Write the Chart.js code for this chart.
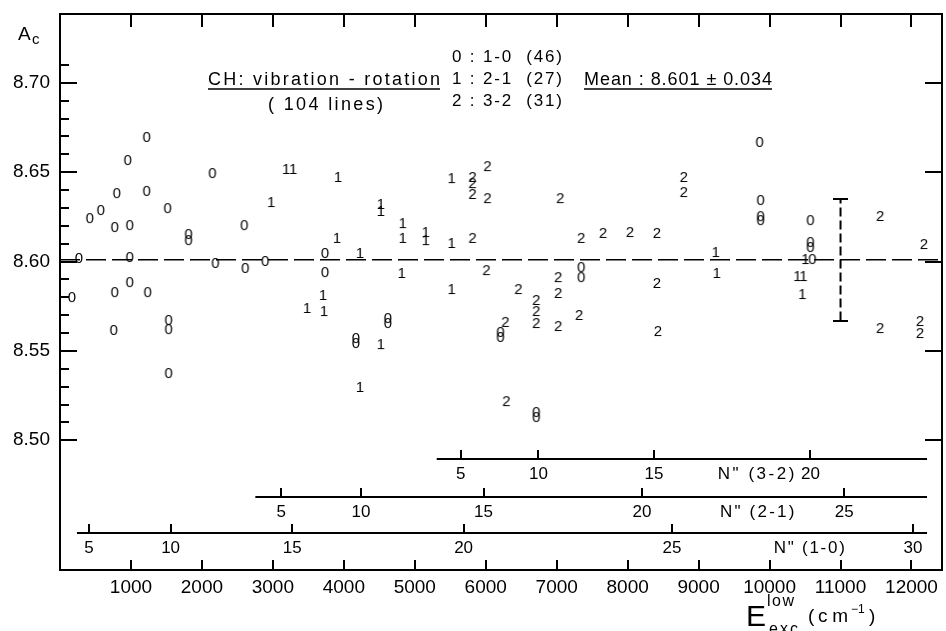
<!DOCTYPE html>
<html>
<head>
<meta charset="utf-8">
<title>CH vibration-rotation Ac</title>
<script src="https://cdn.jsdelivr.net/npm/chart.js@4.4.1/dist/chart.umd.min.js"></script>
<style>
  html, body { margin: 0; padding: 0; background: #fff; }
  canvas { display: block; }
</style>
</head>
<body>
<canvas id="chartCanvas" width="946" height="631"></canvas>
<script>
// Band 1-0 (label "0")
const v10Energy = [1222, 955, 2149, 801, 1222, 1517, 421, 576, 772, 983, 1812, 1812, 2598, 267, 983, 2191, 2612, 2893, 169, 772,
  983, 1236, 758, 1531, 1531, 1531, 3736, 3736, 7346, 7346, 4621, 4621, 6208, 6208, 4171, 4171, 6713, 6713, 9860, 9874,
  9874, 9874, 10576, 10576, 10576, 10604];
const v10Ac = [8.6697, 8.6568, 8.6495, 8.6383, 8.6395, 8.6299, 8.6243, 8.6288, 8.6193, 8.6204, 8.6154, 8.6120, 8.6204, 8.6020, 8.6025,
  8.5992, 8.5964, 8.6003, 8.5801, 8.5829, 8.5885, 8.5829, 8.5617, 8.5673, 8.5622, 8.5376, 8.6048, 8.5941, 8.5969, 8.5913,
  8.5684, 8.5656, 8.5606, 8.5578, 8.5572, 8.5544, 8.5158, 8.5130, 8.6669, 8.6344, 8.6254, 8.6232, 8.6232, 8.6109, 8.6081, 8.6014];

// Band 2-1 (label "1")
const v21Energy = [3188, 3287, 2978, 3483, 3919, 5520, 4522, 4522, 4831, 3904, 4831, 5155, 5155, 5520, 4228, 4817, 3708, 5520,
  3722, 4522, 4228, 9242, 9256, 10506, 10393, 10478, 10463];
const v21Ac = [8.6518, 8.6518, 8.6333, 8.5740, 8.6473, 8.6467, 8.6322, 8.6283, 8.6215, 8.6132, 8.6132, 8.6165, 8.6120, 8.6104,
  8.6048, 8.5936, 8.5813, 8.5846, 8.5723, 8.5538, 8.5298, 8.6053, 8.5936, 8.6014, 8.5919, 8.5919, 8.5818];

// Band 3-2 (label "2")
const v32Energy = [6025, 5815, 5815, 5815, 6025, 7051, 5815, 7346, 7655, 8034, 8413, 6011, 7022, 6461, 7022, 6713, 6713, 6713,
  7317, 6278, 7022, 6292, 8792, 8792, 11559, 12177, 8413, 8427, 11559, 12121, 12121];
const v32Ac = [8.6534, 8.6473, 8.6439, 8.6378, 8.6355, 8.6355, 8.6132, 8.6132, 8.6160, 8.6165, 8.6160, 8.5952, 8.5913, 8.5846,
  8.5824, 8.5785, 8.5723, 8.5656, 8.5701, 8.5662, 8.5639, 8.5219, 8.6473, 8.6389, 8.6255, 8.6098, 8.5880, 8.5611, 8.5628,
  8.5667, 8.5600];

// Mean and its error bar
const meanAc = 8.601;
const meanErr = 0.034;
const errBarEnergy = 11000;

// Axis ticks
const xTickValues = [1000, 2000, 3000, 4000, 5000, 6000, 7000, 8000, 9000, 10000, 11000, 12000];
const yTickValues = [8.50, 8.55, 8.60, 8.65, 8.70];

// Rotational quantum number scales (N'' against lower-level energy)
const n10Ticks = [5, 10, 15, 20, 25, 30];
const n10Energy = [407, 1559, 3272, 5688, 8624, 12022];
const n21Ticks = [5, 10, 15, 20, 25];
const n21Energy = [3118, 4242, 5969, 8202, 11053];
const n32Ticks = [5, 10, 15, 20];
const n32Energy = [5646, 6742, 8371, 10576];

const FONT = '"Liberation Sans", Arial, sans-serif';

// little canvas with a digit, used as point style
function digitMark(d) {
  const c = document.createElement('canvas');
  c.width = 12;
  c.height = 16;
  const g = c.getContext('2d');
  g.font = '15px ' + FONT;
  g.fillStyle = '#000';
  g.textAlign = 'center';
  g.textBaseline = 'middle';
  g.fillText(d, 6, 8.5);
  return c;
}

// flat bar used as error bar cap
function capMark() {
  const c = document.createElement('canvas');
  c.width = 15;
  c.height = 2;
  const g = c.getContext('2d');
  g.fillStyle = '#000';
  g.fillRect(0, 0, 15, 2);
  return c;
}

function toPoints(xs, ys) {
  return xs.map((x, i) => ({ x: x, y: ys[i] }));
}

// text with letters spread to fill [left, right]
function spreadText(ctx, str, left, right, baseline) {
  const chars = [...str];
  const natural = chars.reduce((s, ch) => s + ctx.measureText(ch).width, 0);
  const gap = chars.length > 1 ? (right - left - natural) / (chars.length - 1) : 0;
  let x = left;
  chars.forEach(ch => {
    ctx.fillText(ch, x, baseline);
    x += ctx.measureText(ch).width + gap;
  });
}

const nScales = [
  { ticks: n32Ticks, energy: n32Energy, from: 5309, to: 12219, level: 8.4897, name: 'N" (3-2)', nameFrom: 9270, nameTo: 10350 },
  { ticks: n21Ticks, energy: n21Energy, from: 2753, to: 12219, level: 8.4685, name: 'N" (2-1)', nameFrom: 9300, nameTo: 10350 },
  { ticks: n10Ticks, energy: n10Energy, from: 239, to: 12219, level: 8.4483, name: 'N" (1-0)', nameFrom: 10060, nameTo: 11060 }
];

const paperAxes = {
  id: 'paperAxes',
  afterDraw(chart) {
    const { ctx, chartArea: a, scales: { x, y } } = chart;
    ctx.save();
    ctx.strokeStyle = '#000';
    ctx.fillStyle = '#000';
    ctx.lineWidth = 2;
    ctx.strokeRect(a.left, a.top, a.right - a.left, a.bottom - a.top);

    ctx.beginPath();
    xTickValues.forEach(v => {
      const px = Math.round(x.getPixelForValue(v));
      ctx.moveTo(px, a.top); ctx.lineTo(px, a.top + 13);
      ctx.moveTo(px, a.bottom); ctx.lineTo(px, a.bottom - 10);
    });
    for (let i = 0; i <= 21; i++) {
      const py = Math.round(y.getPixelForValue(8.50 + i * 0.01));
      ctx.moveTo(a.left, py); ctx.lineTo(a.left + (i % 5 === 0 ? 17 : 9), py);
    }
    yTickValues.forEach(v => {
      const py = Math.round(y.getPixelForValue(v));
      ctx.moveTo(a.right, py); ctx.lineTo(a.right - 17, py);
    });
    ctx.stroke();

    // N'' scales
    ctx.font = '17px ' + FONT;
    ctx.textBaseline = 'middle';
    nScales.forEach(s => {
      const py = Math.round(y.getPixelForValue(s.level));
      ctx.beginPath();
      ctx.moveTo(x.getPixelForValue(s.from), py);
      ctx.lineTo(x.getPixelForValue(s.to), py);
      s.energy.forEach(e => {
        const px = Math.round(x.getPixelForValue(e));
        ctx.moveTo(px, py); ctx.lineTo(px, py - 9);
      });
      ctx.stroke();
      ctx.textAlign = 'center';
      s.ticks.forEach((n, i) => {
        ctx.fillText(String(n), x.getPixelForValue(s.energy[i]), py + 15);
      });
      ctx.textAlign = 'left';
      spreadText(ctx, s.name, x.getPixelForValue(s.nameFrom), x.getPixelForValue(s.nameTo), py + 15);
    });

    // annotation block
    ctx.textBaseline = 'alphabetic';
    ctx.textAlign = 'left';
    ctx.font = '18px ' + FONT;
    spreadText(ctx, 'CH: vibration - rotation', 208, 440, 85);
    spreadText(ctx, '( 104 lines)', 268, 383, 110);
    ctx.font = '17px ' + FONT;
    spreadText(ctx, '0 : 1-0  (46)', 452, 562, 62);
    spreadText(ctx, '1 : 2-1  (27)', 452, 562, 84);
    spreadText(ctx, '2 : 3-2  (31)', 452, 562, 106);
    ctx.font = '18px ' + FONT;
    spreadText(ctx, 'Mean : 8.601 \u00b1 0.034', 584, 772, 85);
    ctx.lineWidth = 1.5;
    ctx.beginPath();
    ctx.moveTo(208, 89); ctx.lineTo(440, 89);
    ctx.moveTo(584, 89); ctx.lineTo(772, 89);
    ctx.stroke();

    // y title
    ctx.font = '19px ' + FONT;
    ctx.fillText('A', 18, 40);
    ctx.font = '15px ' + FONT;
    ctx.fillText('c', 32, 44);

    // x title
    ctx.font = '30px ' + FONT;
    ctx.fillText('E', 746, 626);
    ctx.font = '16px ' + FONT;
    spreadText(ctx, 'low', 767, 794, 606);
    spreadText(ctx, 'exc', 769, 798, 634);
    ctx.font = '19px ' + FONT;
    ctx.fillText('(', 808, 622);
    spreadText(ctx, 'cm', 818, 848, 622);
    ctx.fillText(')', 869, 622);
    ctx.font = '12px ' + FONT;
    ctx.fillText('\u22121', 851, 613);
    ctx.restore();
  }
};

const tickFont = { family: FONT, size: 19 };

const chart = new Chart(document.getElementById('chartCanvas').getContext('2d'), {
  type: 'scatter',
  data: {
    datasets: [
      {
        label: '1-0',
        data: toPoints(v10Energy, v10Ac),
        pointStyle: digitMark('0'),
        pointRadius: 1,
        pointBorderWidth: 0
      },
      {
        label: '2-1',
        data: toPoints(v21Energy, v21Ac),
        pointStyle: digitMark('1'),
        pointRadius: 1,
        pointBorderWidth: 0
      },
      {
        label: '3-2',
        data: toPoints(v32Energy, v32Ac),
        pointStyle: digitMark('2'),
        pointRadius: 1,
        pointBorderWidth: 0
      },
      {
        label: 'error',
        data: [{ x: errBarEnergy, y: meanAc - meanErr }, { x: errBarEnergy, y: meanAc + meanErr }],
        showLine: true,
        borderColor: '#000',
        borderWidth: 2,
        borderDash: [9, 4],
        pointStyle: capMark(),
        pointRadius: 1,
        pointBorderWidth: 0
      },
      {
        label: 'mean',
        data: [{ x: 0, y: meanAc }, { x: 12430, y: meanAc }],
        showLine: true,
        borderColor: '#000',
        borderWidth: 1.5,
        borderDash: [20, 6],
        pointRadius: 0
      }
    ]
  },
  options: {
    responsive: false,
    animation: false,
    events: [],
    layout: { padding: { top: 14, right: 1, left: 0, bottom: 0 } },
    plugins: {
      legend: { display: false },
      tooltip: { enabled: false }
    },
    scales: {
      x: {
        type: 'linear',
        min: 0,
        max: 12430,
        afterBuildTicks: s => { s.ticks = xTickValues.map(v => ({ value: v })); },
        afterFit: s => { s.height = 61; s.paddingLeft = 0; s.paddingRight = 0; },
        grid: { display: false, drawTicks: false },
        border: { display: false },
        ticks: {
          font: tickFont,
          color: '#000',
          padding: 6,
          autoSkip: false,
          maxRotation: 0,
          minRotation: 0,
          callback: v => String(v)
        }
      },
      y: {
        type: 'linear',
        min: 8.4274,
        max: 8.7385,
        afterBuildTicks: s => { s.ticks = yTickValues.map(v => ({ value: v })); },
        afterFit: s => { s.width = 60; s.paddingTop = 0; s.paddingBottom = 0; },
        grid: { display: false, drawTicks: false },
        border: { display: false },
        ticks: {
          font: tickFont,
          color: '#000',
          padding: 10,
          callback: v => v.toFixed(2)
        }
      }
    }
  },
  plugins: [paperAxes]
});
</script>
</body>
</html>
